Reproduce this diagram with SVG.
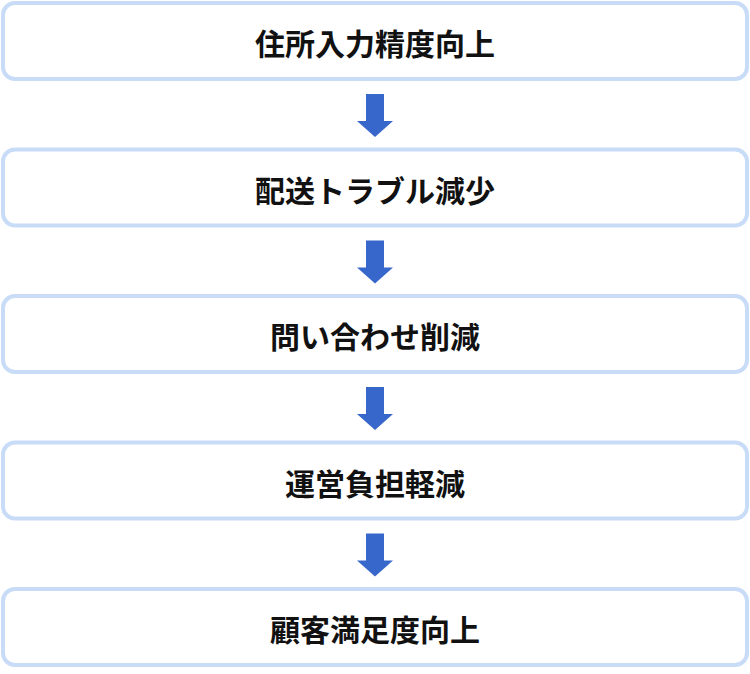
<svg xmlns="http://www.w3.org/2000/svg" width="750" height="674" viewBox="0 0 750 674">
<style>
.box{fill:#ffffff;stroke:#c8dcf8;stroke-width:4}
.lbl{font-family:"Noto Sans CJK JP","Noto Sans CJK SC",sans-serif;font-weight:700;font-size:30px;fill:#111111;text-anchor:middle}
.arr{fill:#3767cb}
</style>
<defs>
<path id="arrow" class="arr" d="M366,0 L384,0 L384,27 L393,27 L375,43 L357,27 L366,27 Z"/>
</defs>
<rect width="750" height="674" fill="#ffffff"/>
<g id="connectors">
<use href="#arrow" y="94"/>
<use href="#arrow" y="240.5"/>
<use href="#arrow" y="387"/>
<use href="#arrow" y="533.5"/>
</g>
<g id="node1"><rect class="box" x="3" y="3" width="744" height="76" rx="12"/><text class="lbl" x="375" y="55">住所入力精度向上</text></g>
<g id="node2"><rect class="box" x="3" y="149.5" width="744" height="76" rx="12"/><text class="lbl" x="375" y="201.5">配送トラブル減少</text></g>
<g id="node3"><rect class="box" x="3" y="296" width="744" height="76" rx="12"/><text class="lbl" x="375" y="348">問い合わせ削減</text></g>
<g id="node4"><rect class="box" x="3" y="442.5" width="744" height="76" rx="12"/><text class="lbl" x="375" y="494.5">運営負担軽減</text></g>
<g id="node5"><rect class="box" x="3" y="589" width="744" height="76" rx="12"/><text class="lbl" x="375" y="641">顧客満足度向上</text></g>
</svg>
